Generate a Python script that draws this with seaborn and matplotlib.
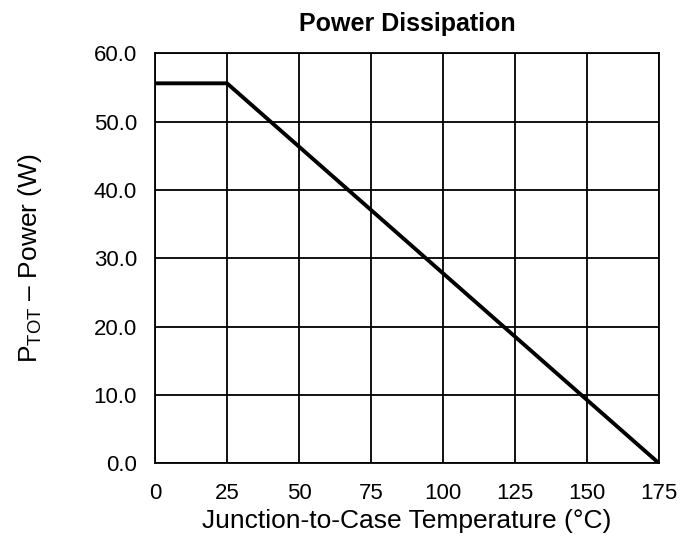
import numpy as np
import pandas as pd

import matplotlib
matplotlib.use('Agg')
import matplotlib.pyplot as plt
import seaborn as sns

temperature = [0, 25, 175]
power = [55.6, 55.6, 0.0]

x_ticks = [0, 25, 50, 75, 100, 125, 150, 175]
y_ticks = [0, 10, 20, 30, 40, 50, 60]

sns.set_style('white')
plt.rcParams['font.family'] = ['Liberation Sans', 'DejaVu Sans']
plt.rcParams['mathtext.fontset'] = 'custom'
plt.rcParams['mathtext.rm'] = 'Liberation Sans'
plt.rcParams['mathtext.default'] = 'regular'
plt.rcParams['text.color'] = 'black'
plt.rcParams['axes.labelcolor'] = 'black'

df = pd.DataFrame({'temp': temperature, 'power': power})

fig = plt.figure(figsize=(6.8, 5.38), dpi=100)
ax = fig.add_axes([0.228, 0.139, 0.741, 0.762])

sns.lineplot(data=df, x='temp', y='power', ax=ax, color='black', linewidth=2.8, zorder=3)

ax.set_xlim(0, 175)
ax.set_ylim(0, 60)
ax.set_xticks(x_ticks)
ax.set_yticks(y_ticks)
ax.set_yticklabels([f'{v:.1f}' for v in y_ticks])

ax.grid(True, color='black', linewidth=1.3)
for s in ax.spines.values():
    s.set_color('black')
    s.set_linewidth(1.3)
ax.tick_params(length=0, labelsize=16, colors='black')
ax.tick_params(axis='x', pad=14)
ax.tick_params(axis='y', pad=13)

ax.set_xlabel('Junction-to-Case Temperature (°C)', fontsize=19, labelpad=4, color='black')
ax.set_ylabel(r'P$_{TOT}$ – Power (W)', fontsize=19, labelpad=36, color='black')
ax.set_title('Power Dissipation', fontsize=18, fontweight='bold', pad=16, color='black')

plt.savefig('out.png', dpi=100)
plt.close()
